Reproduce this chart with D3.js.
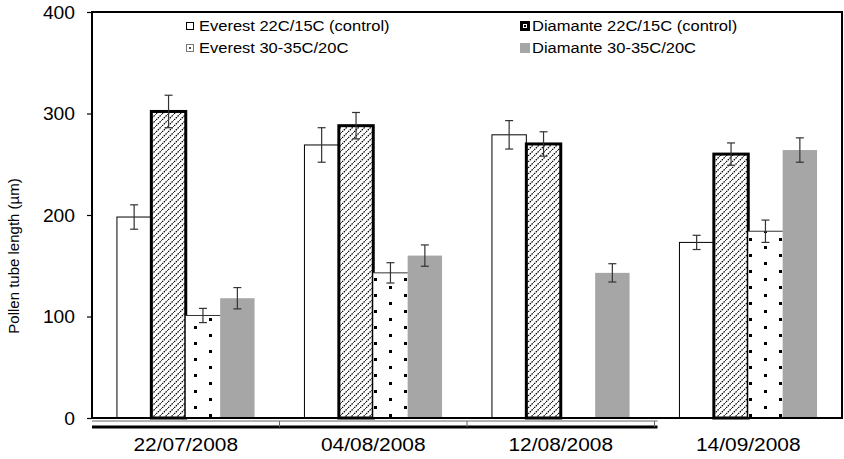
<!DOCTYPE html>
<html>
<head>
<meta charset="utf-8">
<script src="https://cdn.jsdelivr.net/npm/d3@7"></script>
<style>
  html, body { margin: 0; padding: 0; background: #fff; }
  svg { display: block; font-family: "Liberation Sans", Arial, sans-serif; }
</style>
</head>
<body>
<svg id="chart" width="844" height="459"></svg>
<script>
// Sampling dates (categories)
const dates = ["22/07/2008", "04/08/2008", "12/08/2008", "14/09/2008"];
// Series names in drawing order
const seriesNames = ["Everest 22C/15C (control)", "Diamante 22C/15C (control)", "Everest 30-35C/20C", "Diamante 30-35C/20C"];
// Mean pollen tube length (µm); null = not measured
const everestControl = [198, 269, 279, 173];
const diamanteControl = [302, 288, 270, 260];
const everestHeat = [101, 143, null, 184];
const diamanteHeat = [118, 160, 143, 264];
// Error (± µm)
const everestControlErr = [12, 17, 14, 7];
const diamanteControlErr = [16, 13, 12, 11];
const everestHeatErr = [7, 10, null, 11];
const diamanteHeatErr = [10.5, 10.5, 9, 12];
// Y axis ticks
const yTicks = [0, 100, 200, 300, 400];

const seriesValues = [everestControl, diamanteControl, everestHeat, diamanteHeat];
const seriesErrors = [everestControlErr, diamanteControlErr, everestHeatErr, diamanteHeatErr];

const svg = d3.select("#chart");
const plotLeft = 92, plotRight = 842, plotTop = 12, plotBottom = 418;
const SX = 1.1; // horizontal text stretch

const y = d3.scaleLinear().domain([0, 400]).range([plotBottom, plotTop]);
const x0 = d3.scaleBand().domain(dates).range([plotLeft, plotRight]).padding(0);
const x1 = d3.scaleBand().domain(d3.range(4)).range([0, x0.bandwidth()]).paddingInner(0).paddingOuter(0.725);

// Fill patterns
const defs = svg.append("defs");
const hatch = defs.append("pattern").attr("id", "hatch").attr("patternUnits", "userSpaceOnUse")
  .attr("width", 6).attr("height", 6);
hatch.append("rect").attr("width", 6).attr("height", 6).attr("fill", "#fff");
hatch.append("path").attr("d", "M-1.5,1.5 l3,-3 M0,6 l6,-6 M4.5,7.5 l3,-3")
  .attr("stroke", "#000").attr("stroke-width", 1.2).attr("stroke-dasharray", "1.6,0.9");
const dots = defs.append("pattern").attr("id", "dots").attr("patternUnits", "userSpaceOnUse")
  .attr("x", -1).attr("y", 14).attr("width", 30).attr("height", 16);
dots.append("rect").attr("width", 30).attr("height", 16).attr("fill", "#fff");
dots.append("rect").attr("x", 0).attr("y", 0).attr("width", 3).attr("height", 3).attr("fill", "#000");
dots.append("rect").attr("x", 15).attr("y", 8).attr("width", 3).attr("height", 3).attr("fill", "#000");

const styles = [
  { fill: "#fff", stroke: "#000", sw: 1 },
  { fill: "url(#hatch)", stroke: "#000", sw: 3 },
  { fill: "url(#dots)", stroke: "none", sw: 0 },
  { fill: "#a6a6a6", stroke: "none", sw: 0 }
];

// Plot frame
svg.append("rect").attr("x", plotLeft).attr("y", plotTop).attr("width", plotRight - plotLeft).attr("height", plotBottom - plotTop)
  .attr("fill", "none").attr("stroke", "#000").attr("stroke-width", 2);

// Bars
const flat = [];
dates.forEach((d, i) => {
  seriesValues.forEach((vals, s) => {
    if (vals[i] != null) flat.push({ date: d, s, v: vals[i], e: seriesErrors[s][i] });
  });
});

const bars = svg.append("g");
bars.selectAll("rect").data(flat).join("rect")
  .attr("x", d => x0(d.date) + x1(d.s))
  .attr("y", d => y(d.v))
  .attr("width", x1.bandwidth())
  .attr("height", d => y(0) - y(d.v))
  .attr("fill", d => styles[d.s].fill)
  .attr("stroke", d => styles[d.s].stroke)
  .attr("stroke-width", d => styles[d.s].sw);

// Top edge of dotted bars
bars.selectAll("line.topedge").data(flat.filter(d => d.s === 2)).join("line")
  .attr("class", "topedge")
  .attr("x1", d => x0(d.date) + x1(d.s))
  .attr("x2", d => x0(d.date) + x1(d.s) + x1.bandwidth())
  .attr("y1", d => y(d.v)).attr("y2", d => y(d.v))
  .attr("stroke", "#333").attr("stroke-width", 1);

// Error bars
const eb = svg.append("g").attr("stroke", "#333").attr("stroke-width", 1.2);
flat.forEach(d => {
  const cx = x0(d.date) + x1(d.s) + x1.bandwidth() / 2;
  const y1 = y(d.v + d.e), y2 = y(d.v - d.e);
  eb.append("line").attr("x1", cx).attr("x2", cx).attr("y1", y1).attr("y2", y2);
  eb.append("line").attr("x1", cx - 4).attr("x2", cx + 4).attr("y1", y1).attr("y2", y1);
  eb.append("line").attr("x1", cx - 4).attr("x2", cx + 4).attr("y1", y2).attr("y2", y2);
});

// Zero line
svg.append("line").attr("x1", plotLeft).attr("x2", plotRight + 1).attr("y1", y(0)).attr("y2", y(0))
  .attr("stroke", "#000").attr("stroke-width", 2);

// Y axis
const yAxis = d3.axisLeft(y).tickValues(yTicks).tickSize(5).tickSizeOuter(0);
const gy = svg.append("g").attr("transform", `translate(${plotLeft},0)`).call(yAxis);
gy.select(".domain").remove();
gy.selectAll(".tick line").attr("stroke", "#000").attr("stroke-width", 1.2);
gy.selectAll(".tick text").remove();
gy.selectAll(".tick").append("text")
  .attr("transform", `translate(-17,0) scale(${SX},1)`)
  .attr("dy", "0.35em").attr("text-anchor", "end")
  .attr("fill", "#000").attr("font-size", 17.5)
  .text(d => d);

// Category axis below the plot
const axEnd = x0(dates[dates.length - 1]) + 3;
const gx = svg.append("g");
gx.append("line").attr("x1", plotLeft).attr("x2", axEnd).attr("y1", 421).attr("y2", 421)
  .attr("stroke", "#666").attr("stroke-width", 1);
gx.append("line").attr("x1", plotLeft).attr("x2", axEnd).attr("y1", 427).attr("y2", 427)
  .attr("stroke", "#000").attr("stroke-width", 3);
gx.selectAll("line.tk").data(dates.slice(1)).join("line").attr("class", "tk")
  .attr("x1", d => x0(d)).attr("x2", d => x0(d)).attr("y1", 421).attr("y2", 427)
  .attr("stroke", "#666").attr("stroke-width", 1);
gx.selectAll("text").data(dates).join("text")
  .attr("transform", d => `translate(${x0(d) + x0.bandwidth() / 2},451) scale(${SX},1)`)
  .attr("text-anchor", "middle").attr("font-size", 19).attr("fill", "#000")
  .text(d => d);

// Y axis title
svg.append("text")
  .attr("transform", "translate(19,256) rotate(-90)")
  .attr("text-anchor", "middle").attr("font-size", 15).attr("fill", "#000")
  .text("Pollen tube length (µm)");

// Legend
const legendPos = [
  { x: 186, y: 26 }, { x: 520, y: 26 },
  { x: 186, y: 48 }, { x: 520, y: 48 }
];
const lg = svg.append("g");
seriesNames.forEach((name, s) => {
  const p = legendPos[s];
  const g = lg.append("g").attr("transform", `translate(${p.x},${p.y})`);
  if (s === 0) {
    g.append("rect").attr("x", 0.5).attr("y", -3.5).attr("width", 7).attr("height", 7)
      .attr("fill", "#fff").attr("stroke", "#000").attr("stroke-width", 1);
  } else if (s === 1) {
    g.append("rect").attr("x", 0).attr("y", -5).attr("width", 10).attr("height", 10).attr("fill", "#000");
    g.append("rect").attr("x", 3).attr("y", -2).attr("width", 4).attr("height", 4).attr("fill", "#fff");
    g.append("rect").attr("x", 4).attr("y", -1).attr("width", 2).attr("height", 2).attr("fill", "#000");
  } else if (s === 2) {
    g.append("rect").attr("x", 0.5).attr("y", -3.5).attr("width", 7).attr("height", 7)
      .attr("fill", "#fff").attr("stroke", "#777").attr("stroke-width", 1);
    g.append("rect").attr("x", 3).attr("y", -1).attr("width", 2).attr("height", 2).attr("fill", "#555");
  } else {
    g.append("rect").attr("x", 0).attr("y", -5).attr("width", 10).attr("height", 10).attr("fill", "#a6a6a6");
  }
  g.append("text").attr("transform", `translate(${s % 2 === 0 ? 13 : 12},0) scale(${SX},1)`)
    .attr("dy", "0.36em").attr("font-size", 15).attr("fill", "#000")
    .text(name);
});
</script>
</body>
</html>
